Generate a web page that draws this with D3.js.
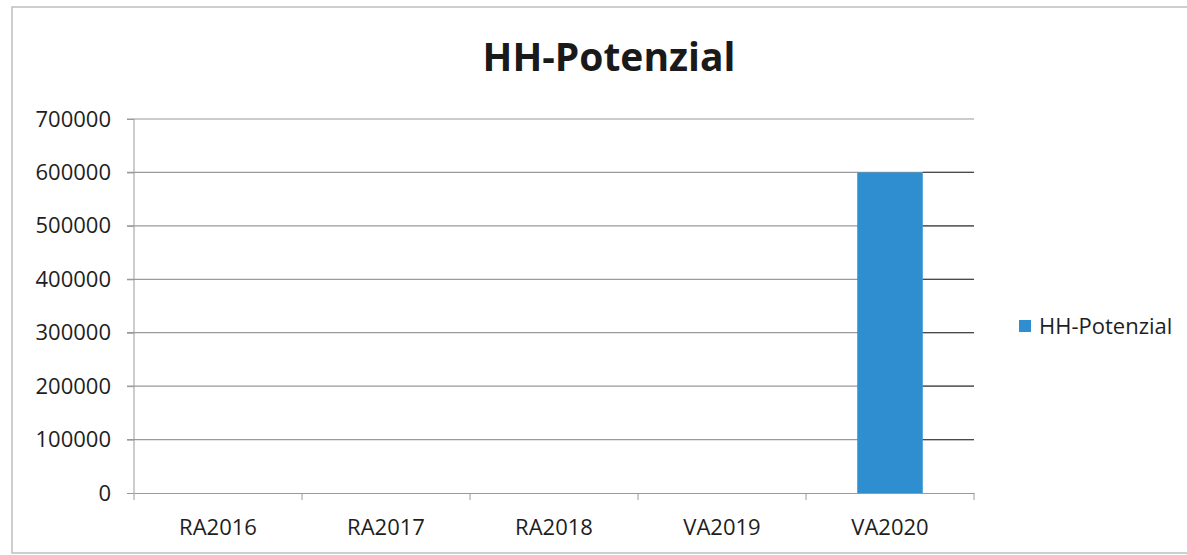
<!DOCTYPE html>
<html><head><meta charset="utf-8">
<script src="https://cdn.jsdelivr.net/npm/d3@7"></script>
<style>body{margin:0;background:#fff}svg{display:block}text{font-family:"Open Sans",sans-serif}</style>
</head><body>
<script>
const categories = ["RA2016","RA2017","RA2018","VA2019","VA2020"];
const values = [0,0,0,0,600000];
const seriesName = "HH-Potenzial";
const yTicks = [0,100000,200000,300000,400000,500000,600000,700000];

const W=1187,H=555;
const FONT="'Open Sans',sans-serif";
const svg=d3.select("body").append("svg").attr("width",W).attr("height",H);
svg.append("rect").attr("x",12).attr("y",7).attr("width",1180).attr("height",546).attr("fill","none").attr("stroke","#bfbfbf").attr("stroke-width",1.5);

const x=d3.scaleBand().domain(categories).range([134,974]).paddingInner(0.61).paddingOuter(0.305);
const xb=d3.scaleBand().domain(categories).range([134,974]);
const y=d3.scaleLinear().domain([0,700000]).range([493,119]);

// gridlines
svg.append("g").selectAll("line").data(yTicks.filter(d=>d>0)).join("line")
 .attr("x1",127).attr("x2",974).attr("y1",d=>y(d)).attr("y2",d=>y(d))
 .attr("stroke","#9a9a9a").attr("stroke-width",1.2);
// darker gridline segments right of the last bar (as in the scan)
const lastX = x(categories[categories.length-1]) + x.bandwidth();
svg.append("g").selectAll("line").data(yTicks.filter(d=>d>0 && d<=values[values.length-1])).join("line")
 .attr("x1",lastX).attr("x2",974).attr("y1",d=>y(d)).attr("y2",d=>y(d))
 .attr("stroke","#4a4a4a").attr("stroke-width",1.3);

// bars
svg.append("g").selectAll("rect").data(values).join("rect")
 .attr("x",(d,i)=>x(categories[i])).attr("width",x.bandwidth())
 .attr("y",d=>y(d)).attr("height",d=>y(0)-y(d)).attr("fill","#2e8ed0");

// y axis
const ya=svg.append("g").attr("transform","translate(134,0)").call(d3.axisLeft(y).tickValues(yTicks).tickSize(7).tickPadding(16).tickFormat(d3.format("d")));
ya.select(".domain").attr("stroke","#9a9a9a").attr("d","M0,119V493");
ya.selectAll(".tick line").attr("stroke","#9a9a9a");
ya.selectAll("text").attr("font-size",22).attr("fill","#1e1e1e").attr("font-family",FONT);

// x axis
const xa=svg.append("g").attr("transform","translate(0,493)").call(d3.axisBottom(xb).tickSize(0).tickPadding(26));
xa.select(".domain").attr("stroke","#9a9a9a");
xa.selectAll("text").attr("font-size",22).attr("fill","#1e1e1e").attr("font-family",FONT);
svg.append("g").selectAll("line").data(categories.map(c=>xb(c)).concat([974])).join("line")
 .attr("x1",d=>d).attr("x2",d=>d).attr("y1",493).attr("y2",500).attr("stroke","#9a9a9a");

// title
svg.append("text").attr("x",609).attr("y",71).attr("text-anchor","middle").attr("font-size",39).attr("font-weight","bold").attr("fill","#1a1a1a").text(seriesName);

// legend
svg.append("rect").attr("x",1019).attr("y",320).attr("width",12).attr("height",12).attr("fill","#2e8ed0");
svg.append("text").attr("x",1039).attr("y",334).attr("font-size",22).attr("fill","#1e1e1e").text(seriesName);
</script>
</body></html>
